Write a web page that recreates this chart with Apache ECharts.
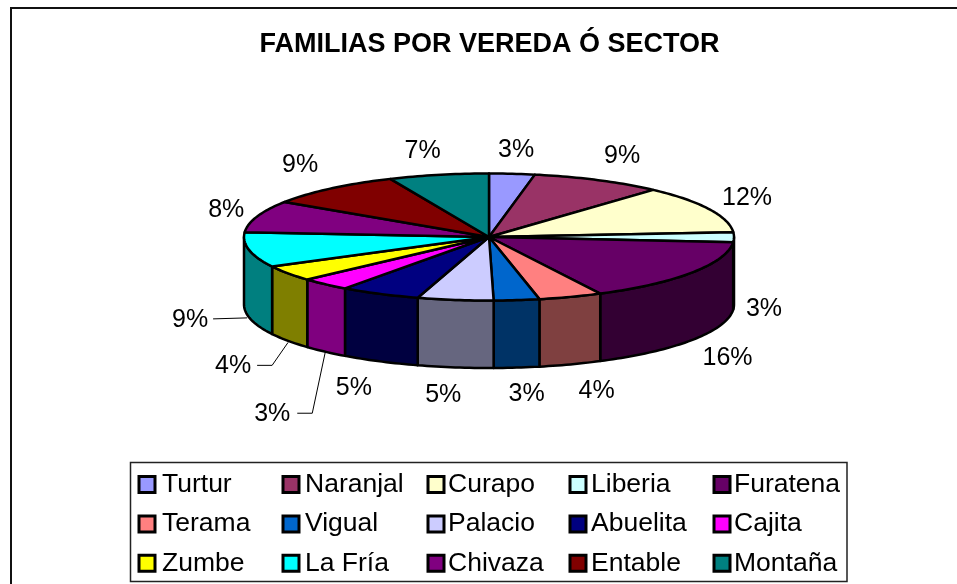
<!DOCTYPE html>
<html>
<head>
<meta charset="utf-8">
<title>Familias por vereda</title>
<script src="https://cdn.jsdelivr.net/npm/echarts@6/dist/echarts.min.js"></script>
<style>
  html, body { margin: 0; padding: 0; background: #fff; }
  #chart { width: 957px; height: 584px; }
</style>
</head>
<body>
<div id="chart"></div>
<script>
// data, share of families in percent
const categories = ['Turtur', 'Naranjal', 'Curapo', 'Liberia', 'Furatena', 'Terama', 'Vigual', 'Palacio',
  'Abuelita', 'Cajita', 'Zumbe', 'La Fría', 'Chivaza', 'Entable', 'Montaña'];
const values = [3, 8.7, 12.1, 2.5, 16.2, 4.2, 3, 5, 5.3, 3.3, 4, 8.9, 8.1, 9.1, 6.6];
const colors = ['#9999FF', '#993366', '#FFFFCC', '#CCFFFF', '#660066', '#FF8080', '#0066CC', '#CCCCFF',
  '#000080', '#FF00FF', '#FFFF00', '#00FFFF', '#800080', '#800000', '#008080'];

// label offset from the middle of each slice's rim
const labelNudge = [[4, -24], [24, -24], [38, -11], [30, 72], [35, 86], [26, 94], [10, 94], [-12, 95],
  [-26, 94], [-53, 130], [-55, 93], [-59, 70], [-31, -6], [-31, -23], [-16, -24]];
// leader lines, same origin as the labels
const leaders = {
  9: [[-28, 129], [-13, 129], [0, 68]],
  10: [[-31, 92], [-16, 92], [0, 69]],
  11: [[-36, 69], [-2, 68]]
};
// legend columns, three names each
const legendColumns = [[0, 5, 10], [1, 6, 11], [2, 7, 12], [3, 8, 13], [4, 9, 14]];
const legendLeft = [137.5, 281.5, 426.5, 568.5, 712.5];
const legendTextGap = [2, 1, -1, 0, -1];

const cx = 489, cy = 237, rx = 245, ry = 63.5, depth = 67.5;
const total = values.reduce((a, b) => a + b, 0);

function rim(angle, drop) {
  return [cx + rx * Math.sin(angle), cy - ry * Math.cos(angle) + (drop || 0)];
}

function arc(from, to, drop) {
  const pts = [];
  const n = Math.max(2, Math.ceil((to - from) / 0.02));
  for (let k = 0; k <= n; k++) pts.push(rim(from + (to - from) * k / n, drop));
  return pts;
}

function halfColor(hex) {
  const c = echarts.color.parse(hex);
  return 'rgb(' + (c[0] >> 1) + ',' + (c[1] >> 1) + ',' + (c[2] >> 1) + ')';
}

function sliceRender(i) {
  return function (params, api) {
    let before = 0;
    for (let k = 0; k < i; k++) before += values[k];
    const a0 = before / total * Math.PI * 2;
    const a1 = (before + api.value(0)) / total * Math.PI * 2;
    const line = { stroke: '#000', lineWidth: 2.5, lineJoin: 'round' };
    const children = [];

    // side wall, only on the front half
    const s0 = Math.max(a0, Math.PI / 2), s1 = Math.min(a1, Math.PI * 1.5);
    if (s1 > s0) {
      const top = arc(s0, s1, 0);
      const bottom = arc(s0, s1, depth).reverse();
      children.push({
        type: 'polygon',
        shape: { points: top.concat(bottom) },
        style: Object.assign({ fill: halfColor(colors[i]) }, line)
      });
    }
    children.push({
      type: 'polygon',
      z2: 2,
      shape: { points: [[cx, cy]].concat(arc(a0, a1, 0)) },
      style: Object.assign({ fill: colors[i] }, line)
    });

    const mid = rim((a0 + a1) / 2);
    children.push({
      type: 'text',
      z2: 3,
      style: {
        x: mid[0] + labelNudge[i][0],
        y: mid[1] + labelNudge[i][1],
        text: Math.round(api.value(0)) + '%',
        font: '25px "Liberation Sans"',
        fill: '#000',
        align: 'center',
        verticalAlign: 'middle'
      }
    });
    if (leaders[i]) {
      children.push({
        type: 'polyline',
        z2: 3,
        shape: { points: leaders[i].map(p => [mid[0] + p[0], mid[1] + p[1]]) },
        style: { stroke: '#000', lineWidth: 1, fill: null }
      });
    }
    return { type: 'group', children: children };
  };
}

const chart = echarts.init(document.getElementById('chart'), null, { renderer: 'canvas' });
chart.setOption({
  animation: false,
  backgroundColor: '#fff',
  title: {
    text: 'FAMILIAS POR VEREDA Ó SECTOR',
    left: 484.5,
    top: 40,
    textAlign: 'center',
    textVerticalAlign: 'middle',
    textStyle: { fontFamily: 'Liberation Sans', fontWeight: 'bold', fontSize: 27, color: '#000' }
  },
  legend: legendColumns.map((col, c) => ({
    orient: 'vertical',
    left: legendLeft[c],
    top: 471,
    padding: 0,
    itemWidth: 16,
    itemHeight: 16,
    itemGap: 12.4,
    selectedMode: false,
    icon: 'rect',
    data: col.map(i => categories[i]),
    itemStyle: { borderColor: '#000', borderWidth: 3 },
    textStyle: { fontFamily: 'Liberation Sans', fontSize: 26.5, color: '#000', padding: [0, 0, 0, legendTextGap[c]] }
  })),
  graphic: [
    {
      type: 'rect', silent: true, z: -1,
      shape: { x: 11, y: 8, width: 960, height: 600 },
      style: { fill: '#fff', stroke: '#111', lineWidth: 2 }
    },
    {
      type: 'rect', silent: true, z: -1,
      shape: { x: 130.5, y: 462.5, width: 716.5, height: 119 },
      style: { fill: '#fff', stroke: '#222', lineWidth: 1.5 }
    }
  ],
  series: categories.map((name, i) => ({
    type: 'custom',
    name: name,
    coordinateSystem: 'none',
    itemStyle: { color: colors[i] },
    renderItem: sliceRender(i),
    data: [[values[i]]]
  }))
});
</script>
</body>
</html>
